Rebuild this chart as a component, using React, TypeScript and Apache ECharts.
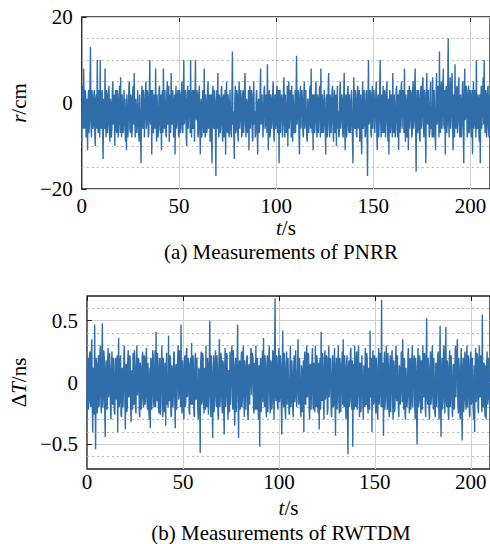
import React, { useEffect, useRef } from 'react';
import * as echarts from 'echarts';

// sample spacing (s)
const STEP = 0.25;

// (a) PNRR measurements r (cm), one value every 0.25 s from t = 0
const pnrrValues = [
  -9, 2, 4, -6, 8, -3, -6, 3, 2, -8, -7, 1, -11, 0, 3, -7, -4, 4, 13, -5, -8, 3, 1, -6, -5, 2, 3, -8, -10, 1, 2, -6, 10, -4, -7, 3, -1, -8, 10, -5,
  -6, 2, 3, -7, -13, 1, 1, -6, 8, -2, -8, 3, 2, -7, -5, 2, 4, -6, -9, 1, 0, -8, -6, 3, 5, -5, -3, 2, -10, 0, 3, -6, -7, 3, 1, -8, -4, 2, 4, -7,
  6, -5, -8, 2, 0, -7, -5, 3, 3, -6, -9, 1, -11, 2, 2, -8, -3, 4, 5, -6, -7, 2, 1, -8, -6, 3, 4, -5, 7, -3, -8, 1, -1, -7, -5, 3, 3, -7, -9, 2,
  2, -7, -14, 1, 4, -5, -6, 3, 1, -8, -8, 2, 5, -6, -4, 3, 2, -8, -7, 2, 10, -4, -5, 3, -12, 1, 3, -7, -6, 2, 0, -6, 8, -2, -9, 2, 2, -8, -5, 3,
  4, -6, -7, 2, -11, 1, 3, -7, 8, -3, -6, 3, 0, -7, -8, 2, 5, -5, -3, 4, -9, 1, 2, -7, 7, -4, -5, 3, 1, -8, -7, 2, -12, 0, 4, -6, -4, 2, 3, -7,
  -8, 3, 2, -7, -5, 2, 5, -6, -7, 1, 10, -5, -3, 3, 1, -8, -10, 2, 4, -6, -6, 3, 0, -7, 10, -4, -8, 2, 3, -6, -5, 3, -9, 1, 10, -3, -4, 3, 2, -8,
  -7, 2, 4, -6, -12, 0, 1, -8, -5, 3, 3, -7, 8, -4, -8, 2, 0, -7, -6, 3, 5, -6, -3, 2, -9, 1, 2, -8, -14, 2, 4, -5, -6, 3, 1, -7, -17, 0, 3, -6,
  7, -5, -8, 2, 1, -7, -5, 3, 4, -6, -9, 1, 2, -8, -4, 3, -12, 0, 5, -6, -7, 2, 0, -8, -6, 3, 3, -7, -8, 2, 12, -5, -2, -8, -13, 1, 4, -7, -6, 3,
  2, -7, -9, 2, 5, -6, -3, 3, 1, -8, -7, 2, 3, -7, -5, 3, 7, -4, -8, 1, 0, -7, -6, 3, -11, 0, 4, -6, -4, 3, 2, -8, -9, 1, 5, -5, -2, -8, -7, 2,
  3, -6, -12, 0, 1, -7, -6, 3, 8, -5, -4, 2, 2, -8, -8, 3, 4, -6, -5, 2, 0, -7, 9, -3, -11, 1, 3, -8, -7, 2, 1, -6, -4, 3, 5, -7, -9, 1, 2, -6,
  -5, 3, 4, -7, -2, 3, -14, 1, 3, -7, -7, 2, 1, -8, -5, 3, 6, -5, -8, 2, 2, -7, -3, 4, -10, 1, 5, -6, -6, 3, 0, -8, 4, -6, -9, 2, 2, -7, -4, 3,
  -7, 2, 11, -5, -3, 3, 2, -8, -12, 1, 4, -6, -6, 3, 1, -7, -8, 2, 5, -6, -4, 3, 3, -8, -9, 1, 0, -7, -5, 3, 4, -6, 8, -4, -7, 2, -11, 0, 2, -7,
  -4, 3, 5, -6, -8, 2, 1, -7, -3, 3, 4, -8, 8, -5, -7, 2, 0, -7, -5, 3, 3, -6, -12, 1, 2, -8, -6, 3, 7, -4, -8, 2, 1, -7, -4, 3, 4, -6, -9, 1,
  3, -7, -5, 2, -10, 0, 4, -6, -2, -8, -7, 3, 5, -6, -3, 2, 1, -7, -8, 2, 7, -5, -11, 1, 2, -8, -5, 3, 4, -6, -7, 2, 0, -7, -4, 3, 3, -8, -14, 1,
  6, -5, -6, 3, 1, -7, -8, 2, 4, -6, -3, 3, -9, 1, 2, -8, -12, 0, 5, -6, -5, 3, 0, -8, -7, 2, 3, -6, -17, 0, 10, -5, -4, 3, 2, -7, -8, 2, 4, -6,
  -6, 3, 1, -7, -3, 2, 5, -6, -11, 1, 2, -8, -5, 3, 10, -4, -8, 2, 0, -7, 4, -6, -7, 3, 2, -8, -4, 3, 5, -5, -9, 1, -12, 0, 3, -7, -5, 2, 1, -8,
  7, -5, -7, 2, 2, -8, -4, 3, 4, -6, -8, 2, -11, 1, 3, -7, -2, 3, 5, -6, -6, 3, 1, -7, 8, -4, -9, 2, 0, -8, -5, 3, -11, 1, 4, -6, -3, 3, 2, -8,
  -7, 3, 5, -6, -4, 3, 8, -5, -16, 0, 3, -7, -6, 3, 1, -8, -9, 2, 4, -6, -3, 4, 6, -5, -8, 3, 2, -7, -14, 1, 7, -4, -5, 3, 3, -8, -7, 3, 5, -6,
  -2, -8, 6, -4, -8, 3, 3, -7, -11, 2, 7, -5, -4, 4, 2, -8, 12, -3, -7, 3, 5, -6, -3, 4, 8, -5, -6, 3, -12, 1, 4, -7, -5, 3, 15, -4, -8, 2, 6, -6,
  -3, 4, 7, -5, -11, 2, 2, -8, 9, -4, -6, 3, 4, -7, -4, 3, 6, -5, -8, 2, 1, -8, -5, 3, 5, -6, -14, 1, 8, -4, -3, 4, 3, -8, -7, 2, 4, -7, -5, 3,
  2, -7, -8, 3, -12, 1, 5, -6, -4, 3, 3, -8, 10, -5, -6, 2, 1, -7, -9, 2, -14, 0, 4, -6, -3, 3, 6, -5, 10, -4, -7, 3, 2, -8, -5, 3, 4, -6, -8, 2,
];

// (b) RWTDM measurements ΔT (ns), one value every 0.25 s from t = 0
const rwtdmValues = [
  -0.3, 0.18, 0.2, -0.22, -0.15, 0.2, 0.25, -0.15, -0.2, 0.24, 0.35, -0.18, -0.4, 0.12, 0.1, -0.26, 0.47, -0.1, -0.54, 0.2, 0.15, -0.25, -0.2, 0.16, 0.22, -0.2, -0.1, 0.25, 0.3, -0.18, -0.25, 0.14, 0.48, -0.2, -0.12, 0.26, 0.2, -0.22, -0.44, 0.1,
  0.18, -0.2, -0.22, 0.15, 0.28, -0.12, -0.08, 0.24, 0.12, -0.22, -0.3, 0.1, 0.25, -0.16, -0.18, 0.2, 0.05, -0.24, -0.26, 0.18, 0.2, -0.14, -0.1, 0.22, -0.4, 0.08, 0.36, -0.2, -0.15, 0.18, 0.22, -0.26, -0.28, 0.12, 0.1, -0.2, -0.05, 0.24, 0.3, -0.16,
  -0.38, 0.14, 0.15, -0.24, -0.2, 0.18, 0.26, -0.12, -0.1, 0.22, 0.2, -0.2, -0.32, 0.1, 0.08, -0.22, 0.24, -0.16, -0.18, 0.26, 0.12, -0.2, -0.25, 0.14, 0.3, -0.1, -0.06, 0.2, 0.18, -0.24, -0.28, 0.16, 0.1, -0.22, -0.15, 0.2, 0.25, -0.12, -0.2, 0.22,
  0.2, -0.18, -0.12, 0.22, 0.28, -0.14, -0.22, 0.16, 0.05, -0.24, -0.3, 0.12, -0.37, 0.2, 0.18, -0.22, -0.08, 0.26, 0.22, -0.16, -0.2, 0.1, 0.26, -0.2, 0.41, -0.12, -0.15, 0.24, 0.1, -0.2, -0.25, 0.18, 0.2, -0.26, -0.05, 0.14, 0.3, -0.18, -0.28, 0.2,
  0.12, -0.24, -0.2, 0.16, -0.35, 0.1, 0.24, -0.18, 0.05, -0.2, 0.38, -0.12, -0.15, 0.22, 0.2, -0.26, -0.28, 0.14, 0.1, -0.2, -0.1, 0.24, 0.25, -0.16, -0.37, 0.12, 0.15, -0.22, -0.22, 0.2, 0.3, -0.14, -0.08, 0.26, 0.18, -0.2, 0.47, -0.1, -0.25, 0.18,
  0.1, -0.22, -0.3, 0.16, 0.22, -0.2, -0.15, 0.24, 0.28, -0.12, -0.05, 0.2, 0.15, -0.24, -0.26, 0.14, 0.2, -0.18, 0.32, -0.1, -0.18, 0.22, 0.08, -0.26, -0.28, 0.18, 0.24, -0.14, -0.12, 0.2, 0.2, -0.22, -0.3, 0.12, 0.1, -0.2, -0.57, 0.16, 0.25, -0.18,
  -0.15, 0.24, 0.2, -0.16, -0.25, 0.12, 0.1, -0.22, 0.3, -0.18, -0.2, 0.2, 0.15, -0.26, -0.1, 0.18, 0.5, -0.12, -0.28, 0.22, 0.08, -0.2, -0.45, 0.1, 0.22, -0.24, -0.15, 0.16, 0.26, -0.1, -0.2, 0.22, 0.1, -0.26, -0.3, 0.14, 0.35, -0.2, -0.12, 0.24,
  0.2, -0.14, -0.25, 0.18, 0.15, -0.22, -0.42, 0.12, 0.28, -0.2, -0.1, 0.24, 0.22, -0.16, -0.3, 0.1, 0.05, -0.24, 0.25, -0.18, -0.18, 0.2, 0.3, -0.12, -0.22, 0.26, 0.12, -0.2, -0.35, 0.14, 0.2, -0.24, -0.08, 0.18, 0.47, -0.16, -0.45, 0.12, 0.18, -0.22,
  -0.2, 0.16, 0.25, -0.2, -0.12, 0.24, 0.3, -0.14, -0.28, 0.18, 0.1, -0.22, -0.05, 0.2, 0.22, -0.26, -0.3, 0.12, 0.15, -0.18, -0.18, 0.22, 0.28, -0.1, -0.1, 0.24, 0.2, -0.2, -0.25, 0.16, 0.08, -0.22, 0.3, -0.12, -0.22, 0.2, 0.12, -0.26, -0.3, 0.14,
  -0.52, 0.12, 0.2, -0.24, -0.1, 0.18, 0.26, -0.16, 0.36, -0.1, -0.2, 0.22, 0.12, -0.2, -0.28, 0.16, 0.22, -0.24, -0.05, 0.2, 0.3, -0.14, -0.25, 0.18, 0.15, -0.22, -0.18, 0.26, 0.25, -0.12, -0.3, 0.2, 0.68, -0.1, -0.15, 0.22, 0.2, -0.18, -0.22, 0.14,
  0.28, -0.16, -0.12, 0.22, 0.15, -0.2, -0.42, 0.1, 0.42, -0.14, -0.2, 0.24, 0.1, -0.22, -0.3, 0.16, 0.25, -0.18, -0.08, 0.2, 0.2, -0.24, -0.26, 0.12, 0.3, -0.2, -0.15, 0.18, 0.05, -0.22, -0.28, 0.14, 0.22, -0.16, -0.1, 0.26, 0.26, -0.2, -0.2, 0.12,
  0.35, -0.18, -0.15, 0.2, 0.2, -0.22, -0.28, 0.14, 0.1, -0.24, -0.05, 0.18, -0.4, 0.1, 0.25, -0.16, -0.18, 0.22, 0.3, -0.12, -0.1, 0.24, 0.22, -0.2, -0.3, 0.14, 0.15, -0.22, -0.05, 0.2, 0.28, -0.18, -0.22, 0.16, 0.1, -0.24, 0.3, -0.12, -0.2, 0.22,
  0.15, -0.2, -0.25, 0.16, -0.38, 0.12, 0.2, -0.22, 0.41, -0.1, -0.15, 0.24, 0.1, -0.18, -0.3, 0.2, 0.26, -0.14, -0.08, 0.22, 0.2, -0.26, -0.22, 0.16, 0.3, -0.12, -0.12, 0.2, 0.05, -0.24, -0.28, 0.18, 0.22, -0.2, -0.18, 0.14, 0.28, -0.16, -0.43, 0.1,
  0.2, -0.22, -0.1, 0.18, 0.3, -0.16, -0.25, 0.2, 0.15, -0.24, -0.05, 0.14, 0.25, -0.18, 0.35, -0.1, -0.2, 0.22, 0.1, -0.2, -0.3, 0.16, 0.22, -0.26, -0.58, 0.12, 0.18, -0.2, -0.12, 0.24, 0.28, -0.14, -0.22, 0.18, -0.52, 0.1, 0.15, -0.22, 0.3, -0.16,
  -0.2, 0.18, 0.25, -0.22, -0.1, 0.2, 0.3, -0.12, -0.28, 0.16, 0.15, -0.24, -0.05, 0.22, 0.22, -0.18, -0.3, 0.14, 0.1, -0.2, 0.28, -0.16, -0.18, 0.24, 0.2, -0.2, -0.25, 0.12, 0.12, -0.22, 0.42, -0.1, -0.12, 0.2, -0.4, 0.16, 0.26, -0.18, -0.15, 0.22,
  0.2, -0.16, -0.25, 0.2, 0.1, -0.22, -0.3, 0.14, 0.28, -0.18, -0.08, 0.24, 0.18, -0.2, 0.67, -0.12, -0.2, 0.16, -0.43, 0.1, 0.25, -0.22, -0.1, 0.18, 0.3, -0.14, -0.22, 0.24, 0.15, -0.2, -0.28, 0.12, 0.22, -0.24, -0.05, 0.2, 0.26, -0.16, -0.3, 0.18,
  0.12, -0.24, -0.2, 0.16, 0.3, -0.12, -0.15, 0.22, 0.22, -0.2, -0.28, 0.14, 0.1, -0.18, -0.05, 0.24, 0.25, -0.16, 0.35, -0.1, -0.22, 0.2, 0.18, -0.26, -0.3, 0.12, 0.12, -0.2, -0.1, 0.22, 0.28, -0.14, -0.25, 0.18, 0.2, -0.22, -0.15, 0.16, 0.3, -0.2,
  -0.2, 0.18, 0.22, -0.16, -0.3, 0.2, 0.1, -0.24, -0.5, 0.12, 0.28, -0.2, -0.15, 0.22, 0.2, -0.14, -0.25, 0.18, 0.15, -0.22, 0.3, -0.1, -0.12, 0.24, 0.22, -0.2, -0.28, 0.16, 0.52, -0.12, -0.18, 0.2, 0.1, -0.24, -0.3, 0.14, 0.25, -0.18, -0.1, 0.22,
  0.3, -0.14, -0.22, 0.2, 0.2, -0.24, -0.28, 0.16, 0.15, -0.2, -0.05, 0.22, 0.25, -0.18, -0.3, 0.12, 0.46, -0.16, -0.44, 0.1, 0.2, -0.22, -0.15, 0.24, 0.3, -0.12, -0.25, 0.2, 0.45, -0.14, -0.2, 0.18, 0.12, -0.26, -0.3, 0.16, 0.26, -0.2, -0.1, 0.22,
  0.22, -0.2, -0.28, 0.14, 0.15, -0.22, -0.2, 0.18, 0.3, -0.12, -0.12, 0.24, 0.35, -0.16, -0.25, 0.2, 0.1, -0.22, -0.3, 0.12, 0.28, -0.18, -0.47, 0.1, 0.2, -0.24, -0.15, 0.2, 0.25, -0.14, -0.22, 0.16, 0.3, -0.2, -0.1, 0.22, 0.18, -0.24, -0.28, 0.12,
  0.25, -0.18, -0.15, 0.2, 0.2, -0.22, -0.3, 0.14, -0.4, 0.1, 0.28, -0.16, -0.12, 0.24, 0.2, -0.2, -0.25, 0.18, 0.3, -0.12, -0.1, 0.22, 0.22, -0.24, 0.55, -0.1, -0.2, 0.16, 0.15, -0.2, -0.28, 0.14, -0.3, 0.12, 0.25, -0.18, -0.15, 0.2, 0.2, -0.14,
];

// tick labels
const rTickLabels = [-20, 0, 20];
const dtTickLabels = [-0.5, 0, 0.5];
const tTicks = [0, 50, 100, 150, 200];

const captionA = '(a) Measurements of PNRR';
const captionB = '(b) Measurements of RWTDM';

const FONT = 'Liberation Serif';
const FS = 21;
const BLUE = '#2f6eab';
const GRID_GRAY = '#cfcfcf';
const DOT_GRAY = '#b5b5b5';
const DARK = '#1e1e1e';

const fmtNum = (v: number) => {
  const r = Math.round(v * 1000) / 1000;
  if (Math.abs(r) < 1e-9) return '0';
  return (r < 0 ? '\u2212' : '') + String(Math.abs(r));
};

const toPairs = (vals: number[]) => vals.map((v, i) => [i * STEP, v]);

const textStyle = { fontFamily: FONT, fontSize: FS, color: '#000' };
const richItalic = { i: { fontFamily: FONT, fontSize: FS, fontStyle: 'italic', color: '#000' } };

function xAxisBottom(gridIndex: number, nameGap: number, labelMargin: number) {
  return {
    type: 'value',
    gridIndex,
    position: 'bottom',
    min: 0,
    max: 210,
    interval: 50,
    name: '{i|t}/s',
    nameLocation: 'middle',
    nameGap,
    nameTextStyle: { ...textStyle, rich: richItalic },
    axisLine: { show: false },
    axisTick: { show: true, inside: true, length: 5, lineStyle: { color: DARK, width: 1 } },
    axisLabel: {
      ...textStyle,
      margin: labelMargin,
      showMaxLabel: false,
      formatter: (v: number) => (tTicks.some((t) => Math.abs(t - v) < 1e-6) ? fmtNum(v) : ''),
    },
    splitLine: { show: true, showMinLine: false, showMaxLine: false, lineStyle: { color: GRID_GRAY, width: 1, type: 'solid' } },
  };
}

function xAxisTop(gridIndex: number) {
  return {
    type: 'value',
    gridIndex,
    position: 'top',
    min: 0,
    max: 210,
    interval: 50,
    axisLine: { show: false },
    axisTick: { show: true, inside: true, length: 5, lineStyle: { color: DARK, width: 1 } },
    axisLabel: { show: false },
    splitLine: { show: false },
  };
}

function yAxisCfg(gridIndex: number, min: number, max: number, step: number, labels: number[], name: string, nameGap: number) {
  return {
    type: 'value',
    gridIndex,
    min,
    max,
    interval: step,
    name,
    nameLocation: 'middle',
    nameGap,
    nameRotate: 90,
    nameTextStyle: { ...textStyle, rich: richItalic },
    axisLine: { show: false },
    axisTick: { show: false },
    axisLabel: {
      ...textStyle,
      margin: 9,
      formatter: (v: number) => (labels.some((l) => Math.abs(l - v) < 1e-6) ? fmtNum(v) : ''),
    },
    splitLine: { show: true, showMinLine: false, showMaxLine: false, lineStyle: { color: DOT_GRAY, width: 1, type: [2, 3] } },
  };
}

function gridMarks(labels: number[], tickLen: number) {
  const data: any[] = [];
  labels.forEach((l) => {
    data.push({ yAxis: l, lineStyle: { color: GRID_GRAY, type: 'solid', width: 1 } });
    data.push([
      { coord: [0, l], lineStyle: { color: DARK, type: 'solid', width: 1 } },
      { coord: [tickLen, l] },
    ]);
  });
  return {
    silent: true,
    symbol: ['none', 'none'],
    label: { show: false },
    z: 1,
    animation: false,
    data,
  };
}

export default function App() {
  const ref = useRef<HTMLDivElement>(null);

  useEffect(() => {
    if (!ref.current) return;
    const chart = echarts.init(ref.current, undefined, { renderer: 'svg' });
    const option: any = {
      animation: false,
      backgroundColor: '#ffffff',
      textStyle: { fontFamily: FONT },
      grid: [
        { left: 76, top: 17, width: 416, height: 172, show: true, borderColor: DARK, borderWidth: 1.3, backgroundColor: 'transparent', containLabel: false },
        { left: 76, top: 296, width: 416, height: 173, show: true, borderColor: DARK, borderWidth: 1.3, backgroundColor: 'transparent', containLabel: false },
      ],
      xAxis: [xAxisBottom(0, 28, 6), xAxisTop(0), xAxisBottom(1, 28, 2), xAxisTop(1)],
      yAxis: [
        yAxisCfg(0, -20, 20, 5, rTickLabels, '{i|r}/cm', 45),
        yAxisCfg(1, -0.7, 0.7, 0.1, dtTickLabels, '\u0394{i|T}/ns', 45),
      ],
      series: [
        {
          type: 'line',
          xAxisIndex: 0,
          yAxisIndex: 0,
          data: toPairs(pnrrValues),
          showSymbol: false,
          symbol: 'none',
          lineStyle: { color: BLUE, width: 1.4 },
          z: 3,
          markLine: gridMarks(rTickLabels, 2.5),
        },
        {
          type: 'line',
          xAxisIndex: 2,
          yAxisIndex: 1,
          data: toPairs(rwtdmValues),
          showSymbol: false,
          symbol: 'none',
          lineStyle: { color: BLUE, width: 1.4 },
          z: 3,
          markLine: gridMarks(dtTickLabels, 2.5),
        },
      ],
      graphic: [
        { type: 'text', x: 281, y: 252, style: { text: captionA, fontFamily: FONT, fontSize: FS, fill: '#000', align: 'center', verticalAlign: 'middle' } },
        { type: 'text', x: 281, y: 533, style: { text: captionB, fontFamily: FONT, fontSize: FS, fill: '#000', align: 'center', verticalAlign: 'middle' } },
      ],
    };
    chart.setOption(option);
    return () => chart.dispose();
  }, []);

  return (
    <div style={{ position: 'fixed', left: 0, top: 0, width: 490, height: 544, overflow: 'hidden', background: '#fff' }}>
      <div ref={ref} style={{ width: 490, height: 544 }} />
    </div>
  );
}
